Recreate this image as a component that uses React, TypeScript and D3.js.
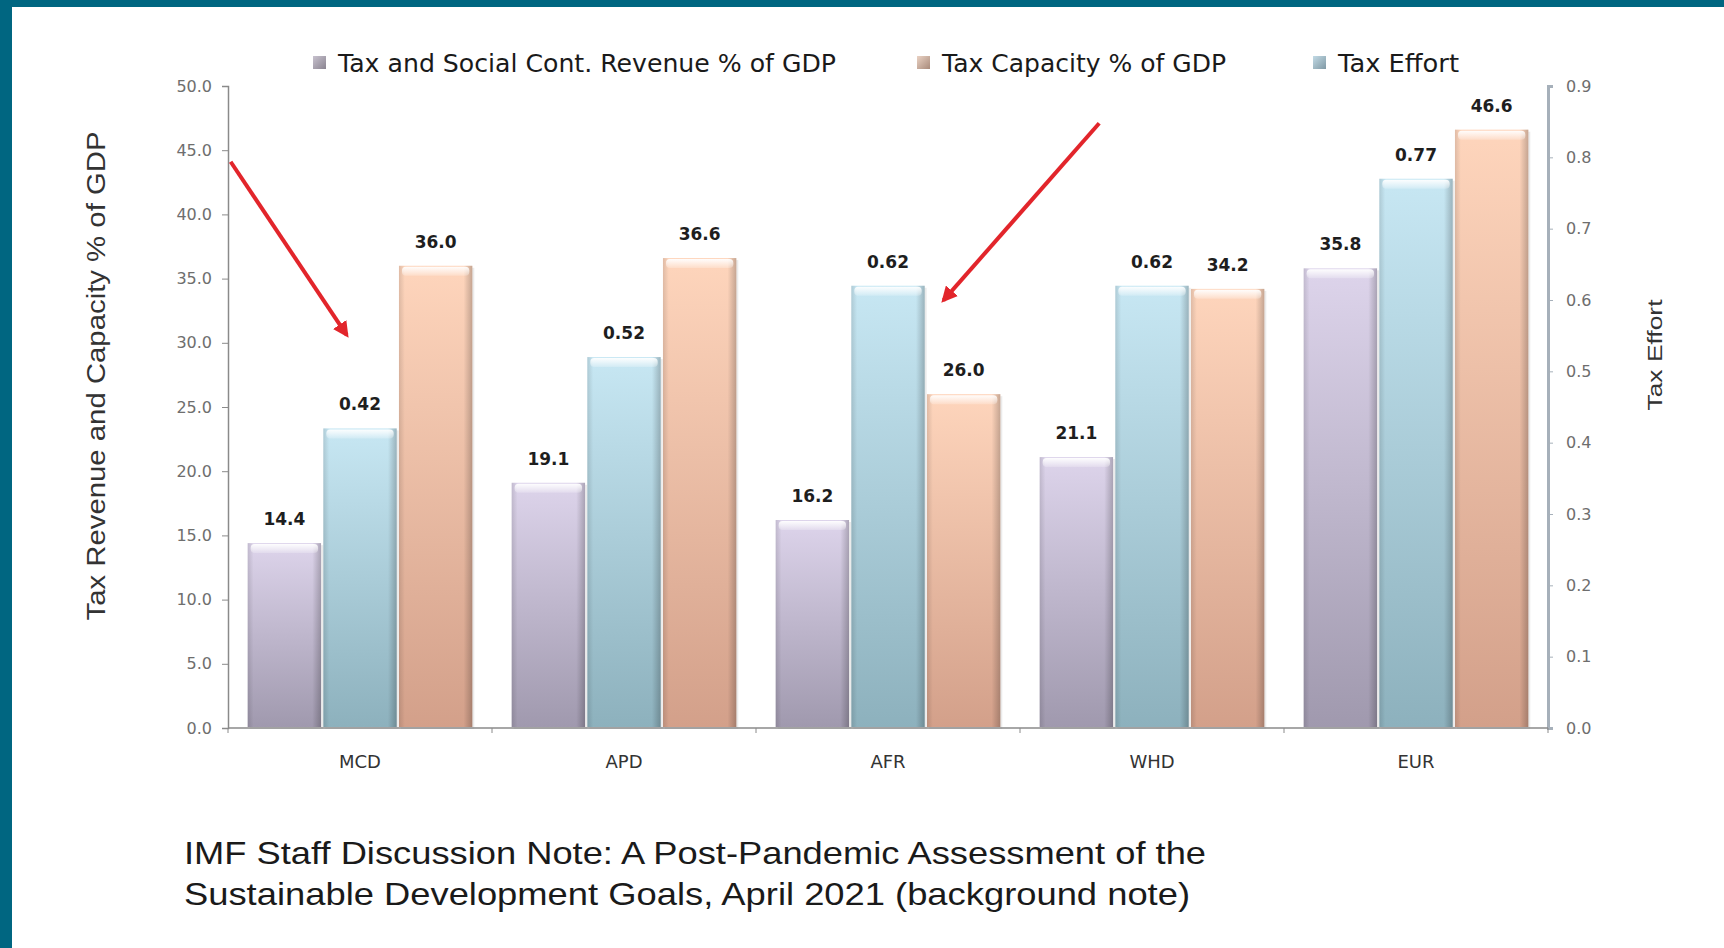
import React, { useEffect, useRef } from 'react';
import * as d3 from 'd3';

const categories = ['MCD', 'APD', 'AFR', 'WHD', 'EUR'];
const revenue = [14.4, 19.1, 16.2, 21.1, 35.8];
const effort = [0.42, 0.52, 0.62, 0.62, 0.77];
const capacity = [36.0, 36.6, 26.0, 34.2, 46.6];
const leftTicks = [0, 5, 10, 15, 20, 25, 30, 35, 40, 45, 50];
const rightTicks = [0, 0.1, 0.2, 0.3, 0.4, 0.5, 0.6, 0.7, 0.8, 0.9];
const legendLabels = ['Tax and Social Cont. Revenue % of GDP', 'Tax Capacity % of GDP', 'Tax Effort'];
// arrows: [band position start, value start, band position end, value end]
const arrows = [
  [0.01, 44.1, 0.45, 30.6],
  [3.3, 47.1, 2.71, 33.3],
];
const noteLines = [
  'IMF Staff Discussion Note: A Post-Pandemic Assessment of the',
  'Sustainable Development Goals, April 2021 (background note)',
];

const W = 1724;
const H = 948;

const App: React.FC = () => {
  const svgRef = useRef<SVGSVGElement>(null);

  useEffect(() => {
    if (!svgRef.current) return;
    const svg = d3.select(svgRef.current);
    svg.selectAll('*').remove();

    const left = 228;
    const right = 1548;
    const top = 86;
    const bottom = 728;

    // frame
    svg.append('rect').attr('width', W).attr('height', H).attr('fill', '#006681');
    svg.append('rect').attr('x', 12).attr('y', 7).attr('width', W - 12).attr('height', H - 7).attr('fill', '#ffffff');

    const defs = svg.append('defs');
    const palettes = [
      { id: 'rev', top: '#ddd4eb', bottom: '#a099ae', legend: ['#c8c2cf', '#8a8490'] },
      { id: 'eff', top: '#c7e7f3', bottom: '#8db1bd', legend: ['#c3dbe6', '#7f98a4'] },
      { id: 'cap', top: '#fed5bc', bottom: '#d3a08a', legend: ['#ead2c4', '#a88a7a'] },
    ];
    palettes.forEach(p => {
      const g = defs.append('linearGradient').attr('id', `g-${p.id}`).attr('x1', 0).attr('y1', 0).attr('x2', 0).attr('y2', 1);
      g.append('stop').attr('offset', 0).attr('stop-color', p.top);
      g.append('stop').attr('offset', 1).attr('stop-color', p.bottom);
      const lg = defs.append('linearGradient').attr('id', `l-${p.id}`).attr('x1', 0).attr('y1', 0).attr('x2', 1).attr('y2', 1);
      lg.append('stop').attr('offset', 0).attr('stop-color', p.legend[0]);
      lg.append('stop').attr('offset', 1).attr('stop-color', p.legend[1]);
    });
    const edge = defs.append('linearGradient').attr('id', 'edge').attr('x1', 0).attr('y1', 0).attr('x2', 1).attr('y2', 0);
    edge.append('stop').attr('offset', 0).attr('stop-color', '#000').attr('stop-opacity', 0.12);
    edge.append('stop').attr('offset', 0.08).attr('stop-color', '#000').attr('stop-opacity', 0);
    edge.append('stop').attr('offset', 0.88).attr('stop-color', '#000').attr('stop-opacity', 0);
    edge.append('stop').attr('offset', 1).attr('stop-color', '#000').attr('stop-opacity', 0.22);
    const shine = defs.append('linearGradient').attr('id', 'shine').attr('x1', 0).attr('y1', 0).attr('x2', 0).attr('y2', 1);
    shine.append('stop').attr('offset', 0).attr('stop-color', '#fff').attr('stop-opacity', 0.95);
    shine.append('stop').attr('offset', 1).attr('stop-color', '#fff').attr('stop-opacity', 0.2);

    const x = d3.scaleBand().domain(categories).range([left, right]).paddingInner(0).paddingOuter(0);
    const keys = ['rev', 'eff', 'cap'];
    const xs = d3.scaleBand().domain(keys).range([0, x.bandwidth()]).paddingOuter(0.26).paddingInner(0.03);
    const yL = d3.scaleLinear().domain([0, 50]).range([bottom, top]);
    const yR = d3.scaleLinear().domain([0, 0.9]).range([bottom, top]);
    const xPos = (t: number) => left + t * x.step();

    // bars
    const rows = categories.flatMap((c, i) => [
      { cat: c, key: 'rev', y: yL(revenue[i]), label: revenue[i].toFixed(1) },
      { cat: c, key: 'eff', y: yR(effort[i]), label: effort[i].toFixed(2) },
      { cat: c, key: 'cap', y: yL(capacity[i]), label: capacity[i].toFixed(1) },
    ]);
    const bars = svg.append('g');
    rows.forEach(d => {
      const bx = (x(d.cat) || 0) + (xs(d.key) || 0);
      const bw = xs.bandwidth();
      const h = bottom - 1 - d.y;
      bars.append('rect').attr('x', bx + 2).attr('y', d.y + 2).attr('width', bw).attr('height', h)
        .attr('fill', '#000').attr('opacity', 0.08);
      bars.append('rect').attr('x', bx).attr('y', d.y).attr('width', bw).attr('height', h)
        .attr('fill', `url(#g-${d.key})`);
      bars.append('rect').attr('x', bx).attr('y', d.y).attr('width', bw).attr('height', h)
        .attr('fill', 'url(#edge)');
      bars.append('rect').attr('x', bx + 3).attr('y', d.y + 1).attr('width', bw - 6).attr('height', 9)
        .attr('rx', 4).attr('fill', 'url(#shine)');
      svg.append('text').attr('x', bx + bw / 2).attr('y', d.y - 18)
        .attr('text-anchor', 'middle').attr('font-family', 'DejaVu Sans').attr('font-weight', 'bold')
        .attr('font-size', 17).attr('fill', '#1e1e1e').text(d.label);
    });

    // left axis
    const gl = svg.append('g').attr('transform', `translate(${left},0)`)
      .call(d3.axisLeft(yL).tickValues(leftTicks).tickFormat(d3.format('.1f')).tickSize(6).tickPadding(10));
    gl.select('.domain').attr('stroke', '#8a8a8a').attr('stroke-width', 1.5);
    gl.selectAll('.tick line').attr('stroke', '#8a8a8a');
    gl.selectAll('.tick text').attr('font-family', 'DejaVu Sans').attr('font-size', 16).attr('fill', '#6e6e6e');

    // right axis
    const gr = svg.append('g').attr('transform', `translate(${right},0)`)
      .call(d3.axisRight(yR).tickValues(rightTicks).tickFormat(d3.format('.1f')).tickSize(5).tickPadding(13));
    gr.select('.domain').attr('stroke', '#a6b0ba').attr('stroke-width', 3);
    gr.selectAll('.tick line').attr('stroke', '#a6b0ba');
    gr.selectAll('.tick text').attr('font-family', 'DejaVu Sans').attr('font-size', 16).attr('fill', '#6e6e6e');

    // x axis
    svg.append('line').attr('x1', left).attr('x2', right).attr('y1', bottom).attr('y2', bottom)
      .attr('stroke', '#8a8a8a').attr('stroke-width', 1.5);
    categories.concat(['end']).forEach((c, i) => {
      svg.append('line').attr('x1', xPos(i)).attr('x2', xPos(i)).attr('y1', bottom).attr('y2', bottom + 5)
        .attr('stroke', '#8a8a8a');
    });
    categories.forEach(c => {
      svg.append('text').attr('x', (x(c) || 0) + x.bandwidth() / 2).attr('y', 768)
        .attr('text-anchor', 'middle').attr('font-family', 'DejaVu Sans').attr('font-size', 18)
        .attr('fill', '#333').text(c);
    });

    // legend
    const legendX = [313, 917, 1313];
    const legendW = [498, 284, 121];
    legendLabels.forEach((t, i) => {
      svg.append('rect').attr('x', legendX[i]).attr('y', 56).attr('width', 13).attr('height', 13)
        .attr('fill', `url(#l-${keys[i === 1 ? 2 : i === 2 ? 1 : 0]})`);
      svg.append('text').attr('x', legendX[i] + 25).attr('y', 72).attr('font-family', 'DejaVu Sans')
        .attr('font-size', 24).attr('fill', '#1a1a1a')
        .attr('textLength', legendW[i]).attr('lengthAdjust', 'spacingAndGlyphs').text(t);
    });

    // axis titles
    svg.append('text').attr('transform', `translate(105,376) rotate(-90)`).attr('text-anchor', 'middle')
      .attr('font-family', 'Liberation Sans').attr('font-size', 25).attr('fill', '#333')
      .attr('textLength', 489).attr('lengthAdjust', 'spacingAndGlyphs')
      .text('Tax Revenue and Capacity % of  GDP');
    svg.append('text').attr('transform', `translate(1662,355) rotate(-90)`).attr('text-anchor', 'middle')
      .attr('font-family', 'Liberation Sans').attr('font-size', 20).attr('fill', '#333')
      .attr('textLength', 111).attr('lengthAdjust', 'spacingAndGlyphs').text('Tax Effort');

    // arrows
    defs.append('marker').attr('id', 'head').attr('viewBox', '0 0 10 10').attr('refX', 8).attr('refY', 5)
      .attr('markerWidth', 4).attr('markerHeight', 4).attr('orient', 'auto')
      .append('path').attr('d', 'M0,0 L10,5 L0,10 Z').attr('fill', '#e2252b');
    arrows.forEach(a => {
      svg.append('line').attr('x1', xPos(a[0])).attr('y1', yL(a[1])).attr('x2', xPos(a[2])).attr('y2', yL(a[3]))
        .attr('stroke', '#e2252b').attr('stroke-width', 4).attr('marker-end', 'url(#head)');
    });

    // note
    const noteW = [1022, 1006];
    noteLines.forEach((t, i) => {
      svg.append('text').attr('x', 184).attr('y', 864 + i * 41).attr('font-family', 'Liberation Sans')
        .attr('font-size', 32).attr('fill', '#1a1a1a')
        .attr('textLength', noteW[i]).attr('lengthAdjust', 'spacingAndGlyphs').text(t);
    });
  }, []);

  return (
    <svg ref={svgRef} width={W} height={H} style={{ position: 'absolute', left: 0, top: 0 }} />
  );
};

export default App;
